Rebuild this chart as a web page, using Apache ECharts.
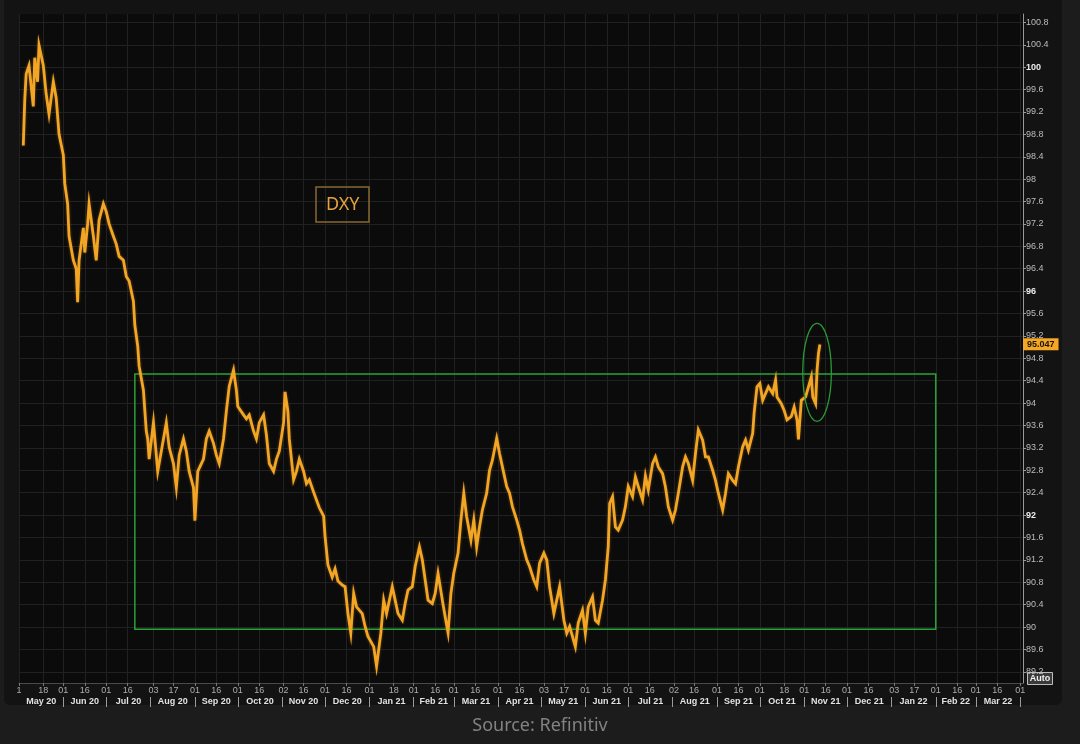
<!DOCTYPE html>
<html>
<head>
<meta charset="utf-8">
<style>
html,body{margin:0;padding:0;background:#1c1c1c;}
#chart{width:1080px;height:744px;}
</style>
<script src="https://cdn.jsdelivr.net/npm/echarts@6/dist/echarts.min.js"></script>
</head>
<body>
<div id="chart"></div>
<script>
// ---- data (DXY) ----
const dates = [
'2020-05-04','2020-05-05','2020-05-06','2020-05-08','2020-05-11','2020-05-12','2020-05-14','2020-05-15','2020-05-18','2020-05-20',
'2020-05-22','2020-05-25','2020-05-27','2020-05-29','2020-06-01','2020-06-02','2020-06-04','2020-06-05','2020-06-08','2020-06-10',
'2020-06-11','2020-06-12','2020-06-15','2020-06-16','2020-06-18','2020-06-19','2020-06-22','2020-06-24','2020-06-26','2020-06-29',
'2020-07-01','2020-07-03','2020-07-06','2020-07-08','2020-07-10','2020-07-13','2020-07-15','2020-07-17','2020-07-20','2020-07-21',
'2020-07-23','2020-07-24','2020-07-27','2020-07-28','2020-07-29','2020-07-30','2020-07-31','2020-08-03','2020-08-05','2020-08-06',
'2020-08-10','2020-08-12','2020-08-14','2020-08-17','2020-08-19','2020-08-21','2020-08-24','2020-08-26','2020-08-28','2020-08-31',
'2020-09-01','2020-09-03','2020-09-07','2020-09-09','2020-09-11','2020-09-14','2020-09-16','2020-09-18','2020-09-21','2020-09-23',
'2020-09-25','2020-09-28','2020-09-30','2020-10-01','2020-10-05','2020-10-07','2020-10-09','2020-10-12','2020-10-14','2020-10-16',
'2020-10-19','2020-10-21','2020-10-23','2020-10-26','2020-10-28','2020-10-30','2020-11-02','2020-11-03','2020-11-05','2020-11-06',
'2020-11-09','2020-11-11','2020-11-13','2020-11-16','2020-11-18','2020-11-20','2020-11-23','2020-11-25','2020-11-27','2020-11-30',
'2020-12-01','2020-12-03','2020-12-06','2020-12-08','2020-12-10','2020-12-13','2020-12-15','2020-12-17','2020-12-19','2020-12-21',
'2020-12-23','2020-12-27','2020-12-29','2020-12-31','2021-01-04','2021-01-06','2021-01-09','2021-01-11','2021-01-13','2021-01-17',
'2021-01-19','2021-01-21','2021-01-24','2021-01-26','2021-01-28','2021-01-31','2021-02-02','2021-02-05','2021-02-07','2021-02-09',
'2021-02-11','2021-02-14','2021-02-16','2021-02-18','2021-02-21','2021-02-23','2021-02-25','2021-02-27','2021-03-01','2021-03-04',
'2021-03-06','2021-03-08','2021-03-10','2021-03-13','2021-03-15','2021-03-17','2021-03-19','2021-03-21','2021-03-24','2021-03-26',
'2021-03-28','2021-03-31','2021-04-02','2021-04-04','2021-04-07','2021-04-09','2021-04-11','2021-04-14','2021-04-16','2021-04-18',
'2021-04-21','2021-04-23','2021-04-26','2021-04-28','2021-04-30','2021-05-03','2021-05-05','2021-05-07','2021-05-10','2021-05-12',
'2021-05-14','2021-05-17','2021-05-19','2021-05-21','2021-05-25','2021-05-27','2021-05-30','2021-06-01','2021-06-03','2021-06-06',
'2021-06-08','2021-06-10','2021-06-13','2021-06-15','2021-06-17','2021-06-18','2021-06-20','2021-06-22','2021-06-24','2021-06-27',
'2021-06-29','2021-07-01','2021-07-04','2021-07-06','2021-07-08','2021-07-11','2021-07-13','2021-07-15','2021-07-18','2021-07-20',
'2021-07-22','2021-07-25','2021-07-27','2021-07-29','2021-08-01','2021-08-03','2021-08-05','2021-08-08','2021-08-10','2021-08-12',
'2021-08-15','2021-08-17','2021-08-19','2021-08-22','2021-08-24','2021-08-26','2021-08-29','2021-08-31','2021-09-02','2021-09-05',
'2021-09-07','2021-09-09','2021-09-12','2021-09-14','2021-09-16','2021-09-19','2021-09-21','2021-09-23','2021-09-26','2021-09-27',
'2021-09-29','2021-10-01','2021-10-03','2021-10-05','2021-10-07','2021-10-10','2021-10-12','2021-10-13','2021-10-16','2021-10-18',
'2021-10-20','2021-10-23','2021-10-25','2021-10-27','2021-10-28','2021-10-30','2021-11-02','2021-11-04','2021-11-06','2021-11-07',
'2021-11-09','2021-11-10','2021-11-11','2021-11-12'
];
const dxy = [
98.6,99.4,99.88,100.03,99.30,100.17,99.74,100.39,100.03,99.52,
99.16,99.74,99.45,98.80,98.43,97.92,97.56,96.98,96.55,96.40,
95.80,96.55,97.13,96.69,97.20,97.56,96.98,96.55,97.27,97.56,
97.42,97.20,96.98,96.84,96.62,96.55,96.26,96.18,95.82,95.39,
95.02,94.66,94.23,93.86,93.50,93.36,93.00,93.65,93.07,92.78,
93.36,93.65,93.21,92.92,92.49,93.07,93.36,93.14,92.78,92.49,
91.90,92.78,93.00,93.36,93.50,93.28,93.07,92.92,93.36,93.86,
94.30,94.59,94.23,93.94,93.79,93.72,93.79,93.50,93.36,93.65,
93.79,93.43,92.92,92.78,93.00,93.14,93.65,94.20,93.86,93.36,
92.63,92.78,93.00,92.78,92.56,92.63,92.41,92.27,92.13,91.98,
91.62,91.11,90.89,91.04,90.82,90.75,90.72,90.24,89.89,90.60,
90.36,90.24,90.01,89.83,89.65,89.30,89.89,90.48,90.24,90.72,
90.48,90.24,90.12,90.42,90.66,90.72,91.08,91.43,91.20,90.84,
90.48,90.42,90.60,90.96,90.48,90.18,89.90,90.60,90.96,91.32,
91.91,92.39,91.97,91.55,91.91,91.43,91.79,92.09,92.39,92.80,
92.98,93.37,93.10,92.86,92.51,92.39,92.15,91.91,91.73,91.49,
91.20,91.08,90.84,90.72,91.14,91.32,91.20,90.72,90.24,90.48,
90.72,90.12,89.89,90.01,89.65,90.07,90.30,89.89,90.36,90.54,
90.12,90.07,90.48,90.84,91.43,92.21,92.33,91.79,91.73,91.91,
92.15,92.51,92.33,92.68,92.51,92.27,92.70,92.45,92.92,93.04,
92.86,92.74,92.50,92.15,91.91,92.09,92.39,92.86,93.04,92.92,
92.62,93.10,93.52,93.34,93.04,93.04,92.80,92.62,92.39,92.09,
92.39,92.74,92.62,92.56,92.86,93.22,93.34,93.16,93.46,93.82,
94.29,94.35,94.05,94.17,94.29,94.17,94.41,94.11,93.99,93.87,
93.70,93.76,93.93,93.70,93.35,94.05,94.11,94.29,94.47,94.11,
93.99,94.59,94.89,95.047
];
const lastValue = 95.047;

// range box and highlight ring (data coordinates)
const boxStart = '2020-07-21', boxEnd = '2022-02-01';
const boxTop = 94.52, boxBottom = 89.96;
const ringCenterDate = '2021-11-10', ringCenterValue = 94.55;
const ringHalfDays = 10, ringHalfValue = 0.875;

// axis ticks
const yTicks = [89.2,89.6,90,90.4,90.8,91.2,91.6,92,92.4,92.8,93.2,93.6,94,94.4,94.8,95.2,95.6,96,96.4,96.8,97.2,97.6,98,98.4,98.8,99.2,99.6,100,100.4,100.8];
const xTickDates = ['2020-05-01','2020-05-18','2020-06-01','2020-06-16','2020-07-01','2020-07-16','2020-08-03','2020-08-17','2020-09-01','2020-09-16','2020-10-01','2020-10-16','2020-11-02','2020-11-16','2020-12-01','2020-12-16','2021-01-01','2021-01-18','2021-02-01','2021-02-16','2021-03-01','2021-03-16','2021-04-01','2021-04-16','2021-05-03','2021-05-17','2021-06-01','2021-06-16','2021-07-01','2021-07-16','2021-08-02','2021-08-16','2021-09-01','2021-09-16','2021-10-01','2021-10-18','2021-11-01','2021-11-16','2021-12-01','2021-12-16','2022-01-03','2022-01-17','2022-02-01','2022-02-16','2022-03-01','2022-03-16','2022-04-01'];
const xTickLabels = ['1','18','01','16','01','16','03','17','01','16','01','16','02','16','01','16','01','18','01','16','01','16','01','16','03','17','01','16','01','16','02','16','01','16','01','18','01','16','01','16','03','17','01','16','01','16','01'];
const monthStarts = ['2020-05-01','2020-06-01','2020-07-01','2020-08-01','2020-09-01','2020-10-01','2020-11-01','2020-12-01','2021-01-01','2021-02-01','2021-03-01','2021-04-01','2021-05-01','2021-06-01','2021-07-01','2021-08-01','2021-09-01','2021-10-01','2021-11-01','2021-12-01','2022-01-01','2022-02-01','2022-03-01','2022-04-01'];
const monthLabels = ['May 20','Jun 20','Jul 20','Aug 20','Sep 20','Oct 20','Nov 20','Dec 20','Jan 21','Feb 21','Mar 21','Apr 21','May 21','Jun 21','Jul 21','Aug 21','Sep 21','Oct 21','Nov 21','Dec 21','Jan 22','Feb 22','Mar 22'];

// ---- helpers ----
function ts(s){ const p = s.split('-').map(Number); return Date.UTC(p[0], p[1]-1, p[2]); }
const xTickTimes = xTickDates.map(ts);
const monthTimes = monthStarts.map(ts);
const monthMids = monthLabels.map((_, i) => (monthTimes[i] + monthTimes[i+1]) / 2);
const sepTimes = monthTimes.slice(1);
const xMin = ts('2020-05-01'), xMax = ts('2022-04-03');
function findIdx(arr, v){ for (let i = 0; i < arr.length; i++) if (Math.abs(arr[i] - v) < 1000) return i; return -1; }

const FONT = 'Liberation Sans, Arial, sans-serif';
const chart = echarts.init(document.getElementById('chart'), null, {renderer: 'canvas'});

const option = {
  backgroundColor: '#1c1c1c',
  animation: false,
  title: [
    { text: 'DXY', left: 316, top: 187, padding: [9, 10, 8, 10],
      borderColor: '#8a6832', borderWidth: 1.5,
      textStyle: { color: '#e4a23c', fontSize: 18, fontWeight: 'normal', fontFamily: 'Noto Sans, sans-serif' } },
    { text: 'Source: Refinitiv', left: 'center', top: 712,
      textStyle: { color: '#828282', fontSize: 18, fontWeight: 'normal', fontFamily: 'Noto Sans, sans-serif' } }
  ],
  grid: { left: 19, right: 57, top: 14, bottom: 61, show: true, backgroundColor: '#0b0b0b', borderWidth: 0 },
  xAxis: [
    { type: 'value', min: xMin, max: xMax, position: 'bottom',
      axisLine: { show: true, lineStyle: { color: '#4a4a4a', width: 1 } },
      axisTick: { show: true, length: 3, customValues: xTickTimes, lineStyle: { color: '#777' } },
      axisLabel: { customValues: xTickTimes, margin: 3, fontSize: 9, color: '#acacac', fontFamily: FONT,
        formatter: v => { const i = findIdx(xTickTimes, v); return i >= 0 ? xTickLabels[i] : ''; } },
      splitLine: { show: true, lineStyle: { color: '#212121', width: 1 } } },
    { type: 'value', min: xMin, max: xMax, position: 'bottom', gridIndex: 0,
      axisLine: { show: false }, axisTick: { show: false }, splitLine: { show: false },
      axisLabel: { customValues: monthMids, margin: 14, fontSize: 9, fontWeight: 'bold', color: '#e2e2e2', fontFamily: FONT,
        formatter: v => { const i = findIdx(monthMids, v); return i >= 0 ? monthLabels[i] : ''; } } },
    { type: 'value', min: xMin, max: xMax, position: 'bottom', gridIndex: 0, offset: 14,
      axisLine: { show: false }, splitLine: { show: false },
      axisTick: { show: true, length: 10, customValues: sepTimes, lineStyle: { color: '#9a9a9a', width: 1 } },
      axisLabel: { show: false } }
  ],
  yAxis: {
    type: 'value', position: 'right', min: 89, max: 100.95,
    axisLine: { show: true, lineStyle: { color: '#9a9a9a', width: 1 } },
    axisTick: { show: true, length: 3, customValues: yTicks, lineStyle: { color: '#9a9a9a' } },
    axisLabel: { customValues: yTicks, margin: 3, fontSize: 9, color: '#bcbcbc', fontFamily: FONT,
      formatter: v => {
        const r = Math.round(v * 10) / 10;
        const isInt = Math.abs(r - Math.round(r)) < 1e-6;
        const s = isInt ? String(Math.round(r)) : r.toFixed(1);
        return (isInt && Math.round(r) % 4 === 0) ? '{b|' + s + '}' : s;
      },
      rich: { b: { fontWeight: 'bold', color: '#ededed', fontSize: 9, fontFamily: FONT } } },
    splitLine: { show: true, lineStyle: { color: '#212121', width: 1 } }
  },
  series: [{
    type: 'line', name: 'DXY', xAxisIndex: 0, yAxisIndex: 0,
    data: dates.map((d, i) => [ts(d), dxy[i]]),
    showSymbol: false, symbol: 'none',
    lineStyle: { color: '#f3a524', width: 2.8, join: 'miter', shadowColor: 'rgba(255,170,40,0.35)', shadowBlur: 3 },
    z: 3,
    markArea: {
      silent: true,
      itemStyle: { color: 'rgba(0,0,0,0)', borderColor: '#2aa237', borderWidth: 1.5 },
      data: [[{ xAxis: ts(boxStart), yAxis: boxTop }, { xAxis: ts(boxEnd), yAxis: boxBottom }]]
    },
    markLine: {
      silent: true, symbol: 'none',
      lineStyle: { color: 'rgba(0,0,0,0)', width: 0 },
      label: { show: true, position: 'end', distance: 0, formatter: String(lastValue),
        backgroundColor: '#f5a623', color: '#141414', fontSize: 9, fontWeight: 'bold', fontFamily: FONT,
        padding: [2, 4, 1, 4] },
      data: [{ yAxis: lastValue }]
    }
  }],
  graphic: [
    { id: 'panel', type: 'rect', z: -100, silent: true,
      shape: { x: 4, y: 0, width: 1058, height: 705, r: [0, 0, 6, 6] },
      style: { fill: '#131313' } },
    { id: 'auto', type: 'group', right: 27, top: 672, children: [
      { type: 'rect', shape: { x: 0, y: 0, width: 25, height: 12 }, style: { fill: '#3a3a3a', stroke: '#bdbdbd', lineWidth: 1 } },
      { type: 'text', x: 12.5, y: 6, style: { text: 'Auto', fill: '#f0f0f0', font: 'bold 9px Liberation Sans, Arial, sans-serif', align: 'center', verticalAlign: 'middle' } }
    ] }
  ]
};
chart.setOption(option);

// highlight ring placed from data coordinates
const c = chart.convertToPixel({ seriesIndex: 0 }, [ts(ringCenterDate), ringCenterValue]);
const e1 = chart.convertToPixel({ seriesIndex: 0 }, [ts(ringCenterDate) + ringHalfDays * 86400000, ringCenterValue + ringHalfValue]);
chart.setOption({ graphic: [{ id: 'ring', type: 'ellipse', silent: true, z: 10,
  shape: { cx: c[0], cy: c[1], rx: Math.abs(e1[0] - c[0]), ry: Math.abs(c[1] - e1[1]) },
  style: { fill: 'none', stroke: '#2a9a35', lineWidth: 1.3 } }] });
</script>
</body>
</html>
